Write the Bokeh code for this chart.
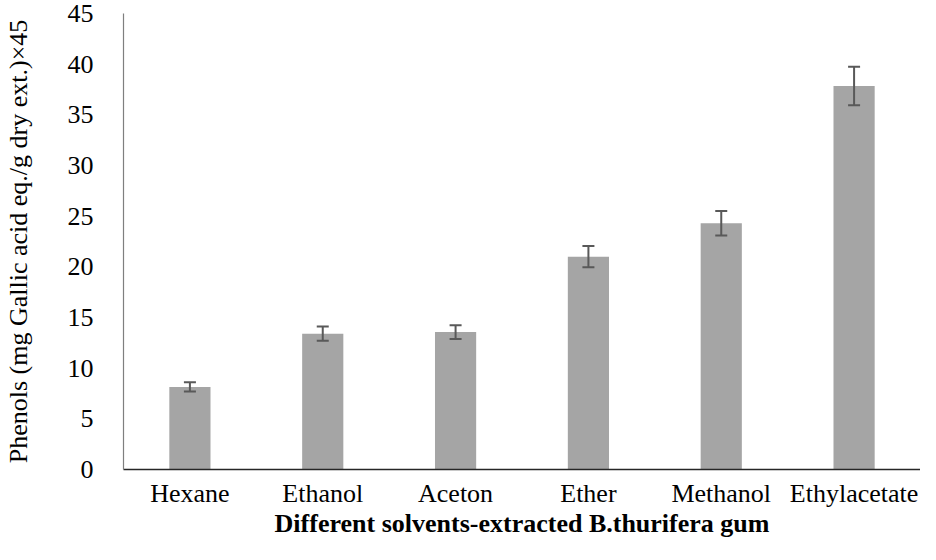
from bokeh.plotting import figure
from bokeh.models import ColumnDataSource, Whisker, TeeHead, FactorRange, SingleIntervalTicker, Range1d
from bokeh.embed import file_html
from bokeh.resources import INLINE

categories = ["Hexane", "Ethanol", "Aceton", "Ether", "Methanol", "Ethylacetate"]
values = [8.15, 13.4, 13.56, 21.0, 24.3, 37.85]
errors = [0.45, 0.7, 0.68, 1.05, 1.22, 1.9]

source = ColumnDataSource(data=dict(
    cat=categories,
    val=values,
    upper=[v + e for v, e in zip(values, errors)],
    lower=[v - e for v, e in zip(values, errors)],
))

FONT = "Liberation Serif"

p = figure(x_range=FactorRange(*categories, range_padding=0), y_range=Range1d(0, 45),
           width=920, height=544, output_backend="svg", toolbar_location=None,
           min_border_left=116, min_border_right=0, min_border_top=13, min_border_bottom=75)
p.outline_line_color = None
p.xgrid.grid_line_color = None
p.ygrid.grid_line_color = None

p.vbar(x="cat", top="val", width=0.31, source=source, fill_color="#A5A5A5", line_color=None)

w = Whisker(base="cat", upper="upper", lower="lower", source=source,
            line_color="#595959", line_width=2, level="overlay",
            upper_head=TeeHead(size=12, line_color="#595959", line_width=2),
            lower_head=TeeHead(size=12, line_color="#595959", line_width=2))
p.add_layout(w)

p.yaxis.ticker = SingleIntervalTicker(interval=5)
p.yaxis.major_tick_line_color = None
p.yaxis.minor_tick_line_color = None
p.yaxis.axis_line_color = "#7F7F7F"
p.yaxis.axis_line_width = 1.2
p.yaxis.major_label_text_font = FONT
p.yaxis.major_label_text_font_size = "26px"
p.yaxis.major_label_text_color = "black"
p.yaxis.major_label_standoff = 24
p.yaxis.axis_label = "Phenols (mg Gallic acid eq./g dry ext.)×45"
p.yaxis.axis_label_text_font = FONT
p.yaxis.axis_label_text_font_size = "26px"
p.yaxis.axis_label_text_font_style = "normal"
p.yaxis.axis_label_text_color = "black"
p.yaxis.axis_label_standoff = 32

p.xaxis.major_tick_line_color = None
p.xaxis.minor_tick_line_color = None
p.xaxis.axis_line_color = "#262626"
p.xaxis.axis_line_width = 1.5
p.xaxis.major_label_text_font = FONT
p.xaxis.major_label_text_font_size = "26px"
p.xaxis.major_label_text_color = "black"
p.xaxis.major_label_standoff = 3
p.xaxis.axis_label = "Different solvents-extracted B.thurifera gum"
p.xaxis.axis_label_text_font = FONT
p.xaxis.axis_label_text_font_size = "26px"
p.xaxis.axis_label_text_font_style = "bold"
p.xaxis.axis_label_text_color = "black"
p.xaxis.axis_label_standoff = -2

open("out.html", "w").write(file_html(p, INLINE))
